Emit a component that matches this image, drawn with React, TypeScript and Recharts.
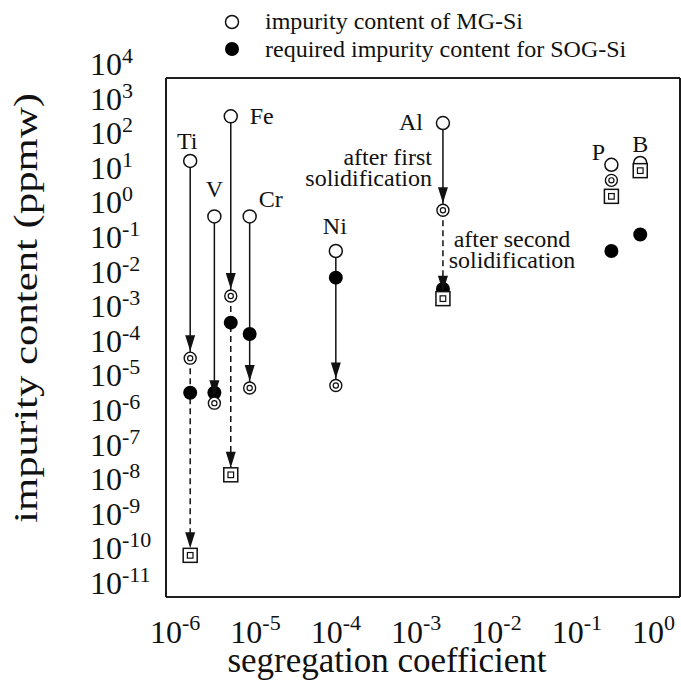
import React from 'react';
import { ScatterChart, Scatter, XAxis, YAxis, ReferenceLine, CartesianGrid, Label } from 'recharts';

// impurities and their segregation coefficients in Si
const elements = ['Ti', 'V', 'Fe', 'Cr', 'Ni', 'Al', 'P', 'B'];
const segregationCoeff = [2e-6, 4e-6, 6.4e-6, 1.1e-5, 1.3e-4, 2.8e-3, 0.35, 0.8];
// ppmw
const mgSiContent = [40, 1, 780, 1, 0.1, 500, 31, 35];
const sogSiRequired = [8e-6, 8e-6, 8.5e-4, 4e-4, 1.7e-2, 8e-3, 0.1, 0.3];
const afterFirst = [8e-5, 4e-6, 5e-3, 1.1e-5, 1.3e-5, 1.5, 11, 28];
const afterSecond = [1.6e-10, null, 3.4e-8, null, null, 4.2e-3, 3.8, 21];
const solidArrowElements = ['Ti', 'V', 'Fe', 'Cr', 'Ni', 'Al'];
const dashedArrowElements = ['Ti', 'Fe', 'Al'];

const xDomain = [1e-6, 2.5];
const yDomain = [1e-11, 1e4];
const xTicks = [1e-6, 1e-5, 1e-4, 1e-3, 1e-2, 1e-1, 1];
const yTicks = [1e-11, 1e-10, 1e-9, 1e-8, 1e-7, 1e-6, 1e-5, 1e-4, 1e-3, 1e-2, 1e-1, 1, 1e1, 1e2, 1e3, 1e4];
const legendLabels = ['impurity content of MG-Si', 'required impurity content for SOG-Si'];
const firstNote = ['after first', 'solidification'];
const secondNote = ['after second', 'solidification'];
const xTitle = 'segregation coefficient';
const yTitle = 'impurity content (ppmw)';

const FONT = '"Liberation Serif", "Times New Roman", serif';
const INK = '#111111';

// where each element name sits relative to its MG-Si circle
const labelPlacement: Record<string, { dx: number; dy: number; anchor: 'start' | 'middle' | 'end' }> = {
  Ti: { dx: -3, dy: -12, anchor: 'middle' },
  V: { dx: 0, dy: -19, anchor: 'middle' },
  Fe: { dx: 19, dy: 8, anchor: 'start' },
  Cr: { dx: 21, dy: -9, anchor: 'middle' },
  Ni: { dx: -1, dy: -17, anchor: 'middle' },
  Al: { dx: -20, dy: 7, anchor: 'end' },
  P: { dx: -13, dy: -5, anchor: 'middle' },
  B: { dx: 0, dy: -11, anchor: 'middle' },
};

const toPoints = (vals: (number | null)[]) =>
  elements
    .map((el, i) => ({ el, k: segregationCoeff[i], c: vals[i] }))
    .filter((p) => p.c != null);

const mgData = toPoints(mgSiContent);
const sogData = toPoints(sogSiRequired);
const firstData = toPoints(afterFirst);
const secondData = toPoints(afterSecond);
const solidTips = firstData.filter((p) => solidArrowElements.includes(p.el));
const dashedTips = secondData.filter((p) => dashedArrowElements.includes(p.el));

const expOf = (v: number) => Math.round(Math.log10(v));

const OpenCircle = (p: any) => {
  const el = p.payload?.el ?? mgData[p.index]?.el;
  const pl = labelPlacement[el];
  return (
    <g>
      <circle cx={p.cx} cy={p.cy} r={6.5} fill="#fff" stroke={INK} strokeWidth={1.5} />
      {pl && (
        <text x={p.cx + pl.dx} y={p.cy + pl.dy} textAnchor={pl.anchor} fontFamily={FONT} fontSize={24} fill={INK}>
          {el}
        </text>
      )}
    </g>
  );
};
const FilledCircle = (p: any) => <circle cx={p.cx} cy={p.cy} r={7} fill="#000" />;
const DoubleCircle = (p: any) => (
  <g>
    <circle cx={p.cx} cy={p.cy} r={6} fill="#fff" stroke={INK} strokeWidth={1.4} />
    <circle cx={p.cx} cy={p.cy} r={2.6} fill="#fff" stroke={INK} strokeWidth={1.2} />
  </g>
);
const DoubleSquare = (p: any) => (
  <g>
    <rect x={p.cx - 7} y={p.cy - 7} width={14} height={14} fill="#fff" stroke={INK} strokeWidth={1.5} />
    <rect x={p.cx - 2.8} y={p.cy - 2.8} width={5.6} height={5.6} fill="#fff" stroke={INK} strokeWidth={1.2} />
  </g>
);
const ArrowTip = (p: any) => (
  <polygon points={`${p.cx},${p.cy - 7} ${p.cx - 5},${p.cy - 23} ${p.cx + 5},${p.cy - 23}`} fill={INK} />
);

// axis labels
const BottomTick = ({ x, y, payload }: any) => (
  <text x={x - 16} y={y + 38} fontFamily={FONT} fontSize={32} fill={INK}>
    10<tspan dy={-13} fontSize={22}>{expOf(payload.value)}</tspan>
  </text>
);
const LeftTick = ({ y, payload }: any) => (
  <text x={90} y={y - 3} fontFamily={FONT} fontSize={32} fill={INK}>
    10<tspan dy={-12} fontSize={22}>{expOf(payload.value)}</tspan>
  </text>
);

const XTitle = ({ viewBox }: any) => (
  <text x={viewBox.x + viewBox.width / 2 - 36} y={viewBox.y + 75} textAnchor="middle" fontFamily={FONT} fontSize={35} fill={INK}>
    {xTitle}
  </text>
);
const YTitle = ({ viewBox }: any) => (
  <text
    transform={`translate(${viewBox.x - 49},${viewBox.y + 230}) rotate(-90)`}
    textAnchor="middle"
    fontFamily={FONT}
    fontSize={34}
    textLength={430}
    lengthAdjust="spacingAndGlyphs"
    fill={INK}
  >
    {yTitle}
  </text>
);

const frameLine = { stroke: INK, strokeWidth: 1.6 };
const inwardTick = { stroke: INK, strokeWidth: 1.5 };

export default function App() {
  return (
    <div style={{ position: 'absolute', left: 0, top: 0, width: 681, height: 682, background: '#fff' }}>
      <ScatterChart width={681} height={682} margin={{ top: 78, right: 1, bottom: 25, left: 86 }}>
        <CartesianGrid horizontalValues={yDomain} verticalValues={xDomain} stroke={INK} strokeWidth={1.6} />
        <XAxis
          type="number" dataKey="k" scale="log" domain={xDomain} allowDataOverflow
          ticks={xTicks} interval={0} height={60} tickLine={false}
          axisLine={frameLine} tick={<BottomTick />}
        >
          <Label content={<XTitle />} />
        </XAxis>
        <YAxis
          type="number" dataKey="c" scale="log" domain={yDomain} allowDataOverflow
          ticks={yTicks} interval={0} width={80} tickLine={false}
          axisLine={frameLine} tick={<LeftTick />}
        >
          <Label content={<YTitle />} />
        </YAxis>

        {/* mirrored axes give the inward tick marks and the top / right frame */}
        <XAxis
          xAxisId="bm" mirror type="number" scale="log" domain={xDomain} allowDataOverflow
          ticks={xTicks} interval={0} height={1} tick={false} tickSize={12}
          tickLine={inwardTick} axisLine={false}
        />
        <XAxis
          xAxisId="tm" orientation="top" mirror type="number" scale="log" domain={xDomain} allowDataOverflow
          ticks={xTicks} interval={0} height={1} tick={false} tickSize={12}
          tickLine={inwardTick} axisLine={frameLine}
        />
        <YAxis
          yAxisId="lm" mirror type="number" scale="log" domain={yDomain} allowDataOverflow
          ticks={yTicks} interval={0} width={1} tick={false} tickSize={13}
          tickLine={inwardTick} axisLine={false}
        />
        <YAxis
          yAxisId="rm" orientation="right" mirror type="number" scale="log" domain={yDomain} allowDataOverflow
          ticks={yTicks} interval={0} width={1} tick={false} tickSize={12}
          tickLine={inwardTick} axisLine={frameLine}
        />

        {solidTips.map((p) => {
          const i = elements.indexOf(p.el);
          return (
            <ReferenceLine
              key={`s-${p.el}`}
              segment={[{ x: p.k, y: mgSiContent[i] }, { x: p.k, y: p.c }]}
              stroke={INK} strokeWidth={1.5}
            />
          );
        })}
        {dashedTips.map((p) => {
          const i = elements.indexOf(p.el);
          return (
            <ReferenceLine
              key={`d-${p.el}`}
              segment={[{ x: p.k, y: afterFirst[i] as number }, { x: p.k, y: p.c }]}
              stroke={INK} strokeWidth={1.5} strokeDasharray="6 4"
            />
          );
        })}

        <Scatter name="required" data={sogData} shape={<FilledCircle />} isAnimationActive={false} />
        <Scatter name="first" data={firstData} shape={<DoubleCircle />} isAnimationActive={false} />
        <Scatter name="mg" data={mgData} shape={<OpenCircle />} isAnimationActive={false} />
        <Scatter name="second" data={secondData} shape={<DoubleSquare />} isAnimationActive={false} />
        <Scatter name="tip1" data={solidTips} shape={<ArrowTip />} isAnimationActive={false} />
        <Scatter name="tip2" data={dashedTips} shape={<ArrowTip />} isAnimationActive={false} />
      </ScatterChart>
      <svg width={681} height={682} style={{ position: 'absolute', left: 0, top: 0, pointerEvents: 'none' }}>
        <g fontFamily={FONT} fontSize={24} fill={INK}>
          <circle cx={232} cy={22} r={6.5} fill="#fff" stroke={INK} strokeWidth={1.5} />
          <text x={265} y={29}>{legendLabels[0]}</text>
          <circle cx={232} cy={49} r={7} fill="#000" />
          <text x={265} y={57}>{legendLabels[1]}</text>
          <text x={432} y={165} textAnchor="end">{firstNote[0]}</text>
          <text x={432} y={186} textAnchor="end">{firstNote[1]}</text>
          <text x={512} y={247} textAnchor="middle">{secondNote[0]}</text>
          <text x={512} y={268} textAnchor="middle">{secondNote[1]}</text>
        </g>
      </svg>
    </div>
  );
}
